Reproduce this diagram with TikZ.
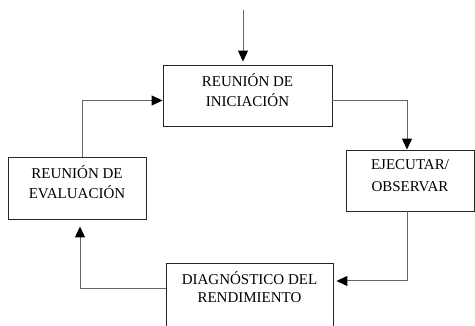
\documentclass[tikz,border=0pt]{standalone}
\usepackage{fontspec}
\setmainfont{Liberation Serif}
\usetikzlibrary{arrows.meta}
\begin{document}
\begin{tikzpicture}[x=1pt,y=-1pt,
  box/.style={draw=black!85, line width=0.9pt, rectangle, inner sep=0pt, fill=white},
  lbl/.style={align=center, inner sep=0pt, font=\fontsize{15}{20}\selectfont},
  conn/.style={draw=black!60, line width=1pt},
  arr/.style={conn, -{Triangle[length=11pt,width=10pt,fill=black,color=black]}}]
\clip (0,0) rectangle (475,326);
\fill[white] (0,0) rectangle (475,326);
\node[box, minimum width=169pt, minimum height=61pt] (b1) at (247.5,95.5) {};
\node[box, minimum width=138pt, minimum height=62pt] (b2) at (77,188) {};
\node[box, minimum width=128pt, minimum height=61pt] (b3) at (410,180.5) {};
\node[box, minimum width=167pt, minimum height=76pt] (b4) at (249.5,301) {};
\node[lbl, yshift=5.5pt] (l1) at (b1) {REUNIÓN DE\\INICIACIÓN};
\node[lbl, yshift=5.5pt] (l2) at (b2) {REUNIÓN DE\\EVALUACIÓN};
\node[lbl, yshift=5pt, font=\fontsize{15}{22}\selectfont] (l3) at (b3) {EJECUTAR/\\OBSERVAR};
\node[lbl, yshift=14pt, font=\fontsize{15}{18}\selectfont] (l4) at (b4) {DIAGNÓSTICO DEL\\RENDIMIENTO};
\coordinate (top) at (243,10);
\draw[arr, shorten >=3pt] (top) -- (top |- b1.north);
\draw[arr] ([yshift=-5.5pt]b1.east) -| ([xshift=-3pt]b3.north);
\draw[arr, shorten >=3pt] ([xshift=-3pt]b3.south) |- ([yshift=20pt]b4.east);
\draw[arr, shorten >=7pt] ([yshift=12pt]b4.west) -| ([xshift=3pt]b2.south);
\draw[arr] ([xshift=5pt]b2.north) |- ([yshift=-5pt]b1.west);
\end{tikzpicture}
\end{document}
